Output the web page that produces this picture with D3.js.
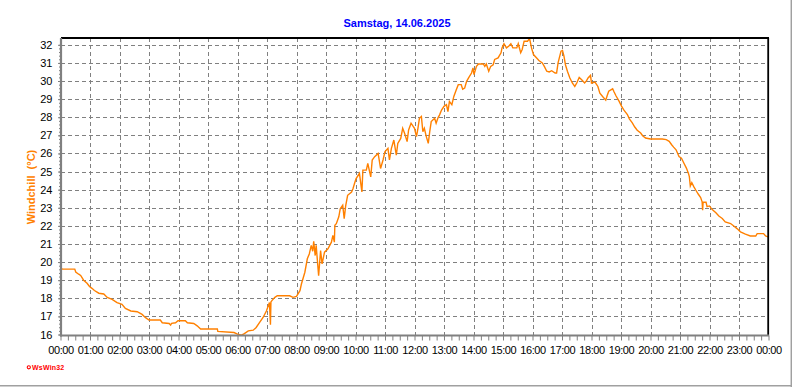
<!DOCTYPE html>
<html><head><meta charset="utf-8">
<script src="https://cdn.jsdelivr.net/npm/d3@7/dist/d3.min.js"></script>
<style>
body{margin:0;background:#fff}
svg{display:block}
text{font-family:"Liberation Sans",Arial,sans-serif}
</style>
</head><body>
<svg id="chart" width="792" height="387"></svg>
<script>
const title = "Samstag, 14.06.2025";
const yLabel = "Windchill  (°C)";
const credit = "WsWin32";
const hourLabels = ["00:00","01:00","02:00","03:00","04:00","05:00","06:00","07:00","08:00","09:00","10:00","11:00","12:00","13:00","14:00","15:00","16:00","17:00","18:00","19:00","20:00","21:00","22:00","23:00","00:00"];
const yTicks = [16,17,18,19,20,21,22,23,24,25,26,27,28,29,30,31,32];

const times = ["00:00","00:03","00:29","00:31","00:37","00:41","00:47","00:54","00:59","01:04","01:09","01:18","01:28","01:35","01:45","01:55","02:05","02:12","02:23","02:36","02:46","02:53","03:00","03:23","03:27","03:41","03:44","03:46","03:54","03:59","04:14","04:18","04:31","04:38","04:45","05:19","05:20","05:53","06:00","06:08","06:14","06:22","06:32","06:38","06:45","06:52","06:59","07:05","07:07","07:08","07:10","07:16","07:21","07:46","07:53","08:00","08:07","08:10","08:17","08:22","08:26","08:30","08:33","08:35","08:38","08:40","08:45","08:49","08:52","08:57","09:04","09:11","09:14","09:17","09:18","09:21","09:26","09:29","09:34","09:37","09:40","09:44","09:52","09:55","09:58","10:01","10:08","10:13","10:15","10:22","10:25","10:31","10:34","10:39","10:46","10:51","10:56","11:00","11:06","11:09","11:13","11:18","11:23","11:26","11:32","11:36","11:40","11:45","11:48","11:53","12:00","12:04","12:07","12:10","12:14","12:17","12:20","12:24","12:28","12:31","12:34","12:41","12:44","12:48","12:51","12:55","13:00","13:05","13:08","13:11","13:16","13:20","13:25","13:29","13:35","13:38","13:42","13:46","13:50","13:56","13:59","14:01","14:06","14:10","14:20","14:23","14:26","14:31","14:35","14:40","14:43","14:50","14:56","14:58","15:02","15:07","15:12","15:16","15:20","15:28","15:31","15:36","15:39","15:43","15:50","15:54","15:58","16:02","16:08","16:13","16:20","16:24","16:29","16:34","16:39","16:46","16:49","16:52","16:58","17:01","17:04","17:07","17:11","17:16","17:21","17:26","17:30","17:35","17:40","17:46","17:50","17:53","17:58","18:00","18:07","18:13","18:17","18:23","18:29","18:32","18:35","18:43","18:46","18:50","18:56","19:01","19:06","19:13","19:17","19:23","19:28","19:33","19:40","19:44","19:50","20:00","20:24","20:32","20:38","20:43","20:47","20:52","20:58","21:03","21:08","21:13","21:17","21:19","21:21","21:24","21:28","21:32","21:37","21:42","21:45","21:46","21:47","21:53","21:55","22:00","22:05","22:13","22:19","22:26","22:32","22:43","22:50","22:56","23:03","23:13","23:23","23:34","23:37","23:50","23:54","23:59"];
const values = [19.72,19.62,19.61,19.45,19.33,19.26,19.00,18.83,18.65,18.55,18.43,18.28,18.24,18.05,17.94,17.76,17.67,17.44,17.30,17.26,17.11,16.93,16.80,16.80,16.65,16.61,16.52,16.62,16.65,16.76,16.76,16.65,16.61,16.48,16.30,16.30,16.17,16.11,16.02,15.96,16.05,16.20,16.24,16.39,16.67,16.94,17.31,17.77,16.54,17.80,17.87,18.05,18.14,18.14,18.05,18.10,18.42,18.79,19.44,20.18,20.45,20.92,20.60,21.14,20.36,20.92,19.25,20.64,19.90,20.55,20.73,21.10,21.47,21.10,22.03,22.12,22.50,22.95,23.14,22.40,23.10,23.69,23.87,24.06,24.34,24.60,24.90,23.87,25.08,25.08,25.45,24.70,25.64,25.82,26.00,25.17,25.64,26.10,26.28,25.64,26.28,26.74,25.90,26.55,26.83,27.39,27.10,26.65,27.30,27.67,27.39,26.93,27.39,27.94,28.04,27.20,27.39,26.93,26.56,27.20,27.76,27.94,27.67,27.98,28.13,28.40,28.60,28.69,28.31,28.87,28.69,29.15,29.52,29.80,29.80,29.55,29.61,29.98,30.17,30.44,30.72,30.35,30.81,30.94,30.94,30.81,30.94,30.54,30.81,30.90,31.19,31.28,31.56,31.83,32.06,31.83,31.93,32.06,31.83,31.83,32.06,31.56,31.74,32.20,32.20,32.35,31.83,31.46,31.28,31.13,31.00,30.81,30.54,30.50,30.57,30.44,30.44,31.00,31.65,31.69,31.37,30.90,30.54,30.17,29.89,29.70,29.89,30.20,30.07,29.89,30.02,30.17,30.31,29.89,29.94,29.70,29.33,29.13,28.94,29.20,29.44,29.57,29.39,29.17,28.89,28.61,28.39,28.15,27.91,27.69,27.46,27.28,27.13,26.98,26.85,26.80,26.80,26.76,26.67,26.48,26.35,26.20,25.83,25.74,25.46,25.19,24.91,24.72,24.20,24.39,24.17,23.98,23.76,23.56,23.33,22.87,23.30,23.30,23.06,23.10,22.91,22.72,22.54,22.41,22.22,22.13,21.98,21.85,21.67,21.54,21.44,21.44,21.57,21.57,21.44,21.39];

const toMin = s => (+s.slice(0,2))*60 + (+s.slice(3,5));
const data = times.map((t,i)=>({t:toMin(t), v:values[i]}));

const svg = d3.select("#chart");
const L = 61, R = 768, T = 38, B = 335.5;
const x = d3.scaleLinear().domain([0,1440]).range([60.5,768.5]);
const y = d3.scaleLinear().domain([16,32]).range([334.5,44.8]);

// outer border (right & bottom)
svg.append("line").attr("x1",791.3).attr("x2",791.3).attr("y1",0).attr("y2",387).attr("stroke","#a0a0a0").attr("stroke-width",1.5);
svg.append("line").attr("x1",0).attr("x2",792).attr("y1",385.7).attr("y2",385.7).attr("stroke","#a0a0a0").attr("stroke-width",1.5);

// grid: vertical
const gx = svg.append("g").attr("transform",`translate(0,${B})`)
  .call(d3.axisBottom(x).tickValues(d3.range(60,1440,60)).tickSize(-(B-T)).tickFormat(""));
gx.select(".domain").remove();
gx.selectAll("line").attr("stroke","#808080").attr("stroke-dasharray","4,3").attr("shape-rendering","crispEdges");

// grid: horizontal
const gy = svg.append("g").attr("transform",`translate(${L},0)`)
  .call(d3.axisLeft(y).tickValues(yTicks).tickSize(-(R-L)).tickFormat(""));
gy.select(".domain").remove();
gy.selectAll("line").attr("stroke","#808080").attr("stroke-dasharray","4,3").attr("shape-rendering","crispEdges");

// data line
svg.append("clipPath").attr("id","clip").append("rect").attr("x",L).attr("y",T).attr("width",R-L).attr("height",B-T+1);
svg.append("path").datum(data)
  .attr("clip-path","url(#clip)")
  .attr("fill","none").attr("stroke","#FF8000").attr("stroke-width",1.4).attr("stroke-linejoin","miter")
  .attr("d", d3.line().x(d=>x(d.t)).y(d=>y(d.v)));

// frame top & right (black)
svg.append("line").attr("x1",L).attr("x2",R+1).attr("y1",T).attr("y2",T).attr("stroke","#000").attr("stroke-width",1.8);
svg.append("line").attr("x1",R+0.2).attr("x2",R+0.2).attr("y1",T).attr("y2",B).attr("stroke","#000").attr("stroke-width",1.8);

// x axis minor ticks
const xm = svg.append("g").attr("transform",`translate(0,${B})`)
  .call(d3.axisBottom(x).tickValues(d3.range(0,1441,15)).tickSize(5).tickFormat(""));
xm.select(".domain").remove();
xm.selectAll("line").attr("stroke","#808080");

// x axis labels
const xa = svg.append("g").attr("transform",`translate(0,${B})`)
  .call(d3.axisBottom(x).tickValues(d3.range(0,1441,60)).tickSize(0).tickPadding(11).tickFormat((d,i)=>hourLabels[i]));
xa.select(".domain").remove();
xa.selectAll("text").attr("fill","#000").style("font-size","11px").style("letter-spacing","-0.4px").style("font-family",'"Liberation Sans",Arial,sans-serif');

// y axis minor ticks
const ym = svg.append("g").attr("transform",`translate(${L},0)`)
  .call(d3.axisLeft(y).tickValues(d3.range(0,81).map(i=>16+i*0.2)).tickSize(2).tickFormat(""));
ym.select(".domain").remove();
ym.selectAll("line").attr("stroke","#808080");

// y axis labels
const ya = svg.append("g").attr("transform",`translate(${L},0)`)
  .call(d3.axisLeft(y).tickValues(yTicks).tickSize(3).tickPadding(5.5).tickFormat(d3.format("d")));
ya.select(".domain").remove();
ya.selectAll("line").attr("stroke","#808080");
ya.selectAll("text").attr("fill","#000").style("font-size","11px").style("font-family",'"Liberation Sans",Arial,sans-serif');

// axis lines (gray)
svg.append("line").attr("x1",L).attr("x2",L).attr("y1",T).attr("y2",B+1).attr("stroke","#808080").attr("stroke-width",2.2);
svg.append("line").attr("x1",L-1).attr("x2",R+1).attr("y1",B).attr("y2",B).attr("stroke","#808080").attr("stroke-width",2.2);

// title
svg.append("text").attr("x",397).attr("y",27).attr("text-anchor","middle")
  .attr("fill","#0000FF").style("font-size","11px").style("font-weight","bold").text(title);

// y label
svg.append("text").attr("transform","translate(34.5,187) rotate(-90)").attr("text-anchor","middle")
  .attr("fill","#FF8000").style("font-size","11px").style("font-weight","bold").style("white-space","pre")
  .attr("xml:space","preserve").text(yLabel);

// credit
svg.append("circle").attr("cx",28.8).attr("cy",367.3).attr("r",1.6).attr("fill","none").attr("stroke","#FF0000").attr("stroke-width",1.1);
svg.append("text").attr("x",32).attr("y",369.8).attr("fill","#FF0000").style("font-size","7px").style("font-weight","bold").style("letter-spacing","0.2px").text(credit);
</script>
</body></html>
